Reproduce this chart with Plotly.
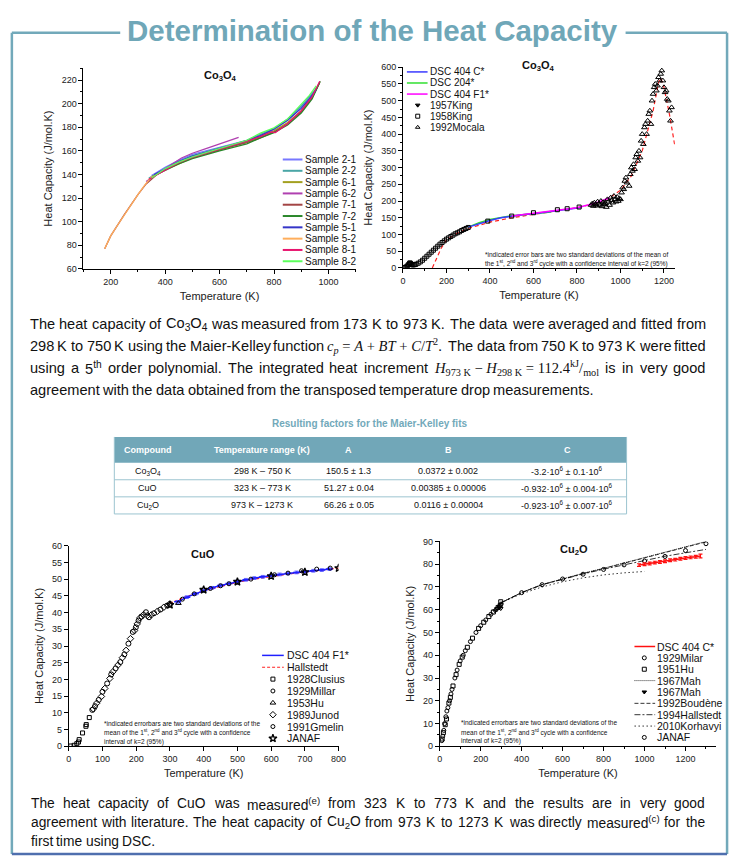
import re
import plotly.graph_objects as go

W, H = 739, 865

# ---------------- DATA ----------------
# Plot 1: Co3O4 samples (T in K, Cp in J/mol.K)
s21_T = [350, 400, 450, 500, 550, 600, 650, 700, 750, 800, 850, 900, 930, 960]
s21_C = [139, 146, 152, 157, 160, 163, 166, 169, 173, 178, 186, 197, 205, 214]
s22_T = [340, 400, 450, 500, 550, 600, 650, 700, 750, 800, 850, 900, 930, 955]
s22_C = [137, 145, 151, 156, 159.5, 162.5, 165.5, 169, 174, 179, 187, 198, 206, 213]
s61_T = [340, 400, 450, 500, 550, 600, 650, 700, 750, 800, 850, 900, 940, 968]
s61_C = [136, 144, 149, 154, 158, 161, 164, 167.5, 172, 177, 184, 194, 206, 218]
s62_T = [330, 380, 420, 460, 500, 550, 600, 640, 670]
s62_C = [134, 142, 148, 154, 158, 162, 166, 169, 171.5]
s71_T = [178, 200, 250, 300, 330, 370, 400, 450, 500, 550, 600, 650, 700, 750, 800, 850, 900, 940, 968]
s71_C = [77, 88, 106, 123, 132, 140, 144, 150, 154, 157.5, 160.5, 164, 167, 171, 176, 183, 193, 205, 218]
s72_T = [350, 400, 450, 500, 550, 600, 650, 700, 750, 800, 850, 900, 940, 970]
s72_C = [138, 143.5, 149, 153.5, 157, 160, 163, 166, 171, 175.5, 182, 192, 204, 219]
s51_T = [360, 400, 450, 500, 550, 600, 650, 700, 750, 800, 850, 900, 930, 955]
s51_C = [140, 145, 151, 155.5, 159, 162, 165, 168.5, 173, 178.5, 186, 196, 204, 212]
s52_T = [178, 190, 200, 225, 250, 275, 300, 325, 350, 365]
s52_C = [77, 83, 88, 97, 106, 115, 123, 131, 138, 139]
s81_T = [340, 400, 450, 500, 550, 600, 650, 700, 750, 790, 805, 850, 900, 940, 968]
s81_C = [136, 144, 150, 154.5, 158, 161.5, 164.5, 168, 172, 176, 175.5, 183, 194, 206, 219]
s82_T = [350, 400, 450, 500, 550, 600, 650, 700, 750, 800, 850, 900, 930, 955]
s82_C = [137, 145, 150.5, 155, 158.5, 162, 165.5, 169, 175, 179.5, 187, 199, 207, 215]
sample_names = ["Sample 2-1", "Sample 2-2", "Sample 6-1", "Sample 6-2", "Sample 7-1",
                "Sample 7-2", "Sample 5-1", "Sample 5-2", "Sample 8-1", "Sample 8-2"]
sample_colors = ["#7878ff", "#4aa6a6", "#a3a020", "#b040b0", "#a34545",
                 "#2a872a", "#3535c8", "#ffae5c", "#e8146e", "#5cff5c"]
sample_T = [s21_T, s22_T, s61_T, s62_T, s71_T, s72_T, s51_T, s52_T, s81_T, s82_T]
sample_C = [s21_C, s22_C, s61_C, s62_C, s71_C, s72_C, s51_C, s52_C, s81_C, s82_C]

# Plot 2: Co3O4 literature
king57_T = [5, 10, 15, 20, 25, 30, 33, 36, 40, 45, 50, 55, 60, 70, 80, 90, 100, 110, 120, 130, 140,
            150, 160, 170, 180, 190, 200, 210, 220, 230, 240, 250, 260, 270, 280, 290, 300]
king57_C = [0.5, 1.5, 3, 6, 10, 14, 15, 13, 10, 9, 9.5, 10, 11, 14, 18, 23, 29, 35, 41, 47, 53,
            59, 65, 71, 76, 81, 86, 90, 94, 98, 102, 105, 108, 112, 115, 118, 121]
king58_T = [390, 500, 600, 710, 755, 810]
king58_C = [140, 155, 165, 174, 177, 182]
mocala_T = [865, 870, 875, 880, 885, 890, 895, 900, 905, 910, 915, 920, 925, 930, 935, 940, 945, 950,
            955, 960, 965, 970, 975, 980, 985, 990, 995, 1000,
            1005, 1010, 1015, 1020, 1025, 1030,
            1040, 1045, 1050, 1055, 1060, 1065, 1070, 1075, 1080, 1085, 1090, 1095, 1100, 1105, 1110,
            1115, 1120, 1125, 1130, 1135, 1140, 1145, 1150, 1155, 1160, 1165, 1170, 1175, 1180, 1185,
            1190, 1195, 1200, 1205, 1210, 1215, 1220, 1225, 1230, 1235]
mocala_C = [188, 192, 185, 195, 190, 186, 198, 192, 188, 200, 184, 196, 190, 193, 182, 205, 198, 188,
            210, 202, 195, 215, 205, 198, 212, 200, 208, 205,
            225, 240, 235, 260, 270, 255,
            245, 280, 300, 290, 310, 295, 330, 340, 320, 350, 330, 380, 400, 370, 420,
            430, 400, 440, 460, 470, 430, 500, 520, 540, 550, 530, 545, 570, 560, 580,
            590, 560, 540, 525, 530, 505, 500, 470, 440, 480]
dsc404c_T = [300, 350, 400, 450, 500, 550, 600, 650, 700, 750, 800, 820]
dsc404c_C = [122, 133, 142, 150, 155, 159, 162, 166, 170, 174, 179, 181]
dsc204_T = [300, 350, 400, 450, 500, 550, 600, 650, 680]
dsc204_C = [122, 135, 145, 151, 156, 159, 162, 165, 167]
dsc404f1_T = [500, 550, 600, 650, 700, 750, 800, 850, 900, 950]
dsc404f1_C = [155, 159, 163, 166, 170, 175, 180, 188, 197, 210]
fit_T = [135, 150, 175, 200, 250, 300, 350, 400, 500, 600, 700, 800, 900, 950, 1000, 1050, 1100,
         1150, 1175, 1185, 1200, 1225, 1250]
fit_C = [0, 22, 58, 84, 104, 118, 128, 137, 150, 160, 170, 180, 195, 210, 232, 275, 350,
         470, 555, 568, 540, 460, 365]

# Plot 3: CuO
clusius_T = [6, 16, 24, 29, 31, 41, 51, 52, 61]
clusius_C = [0.1, 0.3, 0.8, 1.3, 2.0, 4.0, 6.0, 6.5, 8.6]
millar_T = [70, 78, 89, 100, 114, 126, 139, 153, 165, 177, 190, 199, 207, 216, 229, 238, 253, 272, 292, 300]
millar_C = [10.9, 12.0, 13.9, 16.3, 18.8, 21.5, 23.3, 25.2, 27.5, 30.7, 34.2, 35.6, 37.6, 38.8, 40.1,
            38.6, 39.8, 40.9, 42.1, 42.6]
junod_T = [73, 83, 97, 107, 122, 131, 146, 159, 170, 183, 195, 203, 211, 222, 233, 245, 263, 282]
junod_C = [11.2, 12.9, 14.9, 17.3, 20.3, 22.3, 24.3, 26.5, 28.7, 32.2, 34.6, 36.6, 38.4, 39.4, 39.1,
           39.3, 40.4, 41.6]
hu53_T = [325]
hu53_C = [42.8]
gmelin_T = [337, 372, 420, 450, 475, 540, 610, 650, 690, 735, 775]
gmelin_C = [44.0, 45.6, 47.2, 48.0, 48.6, 50.0, 51.3, 51.8, 52.5, 53.0, 53.3]
janaf3_T = [300, 400, 500, 600, 700, 800]
janaf3_C = [42.3, 46.8, 49.2, 50.9, 52.1, 53.3]
cuo_dsc_T = [323, 350, 375, 400, 425, 450, 475, 500, 525, 550, 575, 600, 625, 650, 675, 700, 725, 750, 773]
cuo_dsc_C = [43.2, 44.6, 45.6, 46.6, 47.4, 48.1, 48.7, 49.3, 49.8, 50.3, 50.7, 51.1, 51.4, 51.7, 52.0,
             52.2, 52.5, 52.7, 53.0]
cuo_dsc_err = [0.4, 0.4, 0.4, 0.4, 0.4, 0.4, 0.4, 0.4, 0.4, 0.4, 0.4, 0.4, 0.4, 0.4, 0.4, 0.4, 0.4, 0.4, 0.4]
hall_T = [300, 350, 400, 450, 500, 550, 600, 650, 700, 750, 800]
hall_C = [42.8, 44.8, 46.5, 47.9, 49.1, 50.0, 50.8, 51.5, 52.1, 52.7, 53.3]

# Plot 4: Cu2O
milar_T = [10, 15, 20, 24, 30, 35, 40, 48, 55, 60, 74, 85, 100, 115, 125, 150, 177, 200, 225, 250, 275, 292, 300]
milar_C = [2.5, 4.5, 7, 10, 13, 15.5, 17, 20, 23, 25, 30, 33.5, 37.5, 40, 42, 46, 50, 53, 55.5, 58, 60, 61.5, 62.5]
hu51_T = [12, 18, 27, 33, 45, 52, 65, 80, 95, 110, 135, 160, 190, 215, 240, 262, 285, 295, 298]
hu51_C = [3.2, 6, 9.5, 12, 19, 21.5, 26.5, 31.5, 36, 39.2, 43.5, 47.5, 51.8, 54.5, 57, 59, 61, 61.8, 63.5]
mahpt_T = [270, 280, 290, 298]
mahpt_C = [59.5, 60.5, 61, 60.5]
mahln_T = [298, 400, 500, 600, 700, 800, 900, 1000, 1100, 1200, 1300]
mahln_C = [63, 67.6, 71.1, 73.7, 76, 78.2, 80.5, 82.8, 85.1, 87.5, 90]
boud_T = [298, 400, 500, 600, 700, 800, 900, 1000, 1100, 1200, 1300]
boud_C = [63, 67.5, 71, 73.6, 75.9, 78.1, 80.4, 82.6, 84.9, 87.3, 89.8]
hall94_T = [298, 400, 500, 600, 700, 800, 900, 1000, 1100, 1200, 1300]
hall94_C = [63, 67.5, 71, 73.5, 75.7, 77.8, 79.8, 81.8, 83.5, 85, 86.5]
korh_T = [298, 400, 500, 600, 700, 800, 900, 1000]
korh_C = [63, 67, 70, 72.3, 74, 75.3, 76.2, 76.8]
janaf4_T = [400, 500, 600, 700, 800, 900, 1000, 1100, 1200, 1300]
janaf4_C = [67.5, 71, 73.5, 75.6, 77.7, 79.7, 81.4, 83.4, 86, 89]
cu2o_dsc_T = [973, 1000, 1025, 1050, 1075, 1100, 1125, 1150, 1175, 1200, 1225, 1250, 1273]
cu2o_dsc_C = [79.6, 80.0, 80.3, 80.7, 81.0, 81.3, 81.7, 82.0, 82.4, 82.7, 83.0, 83.3, 83.6]
cu2o_dsc_err = [0.6, 0.6, 0.6, 0.6, 0.6, 0.6, 0.6, 0.6, 0.6, 0.6, 0.6, 0.6, 0.8]

# Table
tbl_header = ["Compound", "Temperature range (K)", "A", "B", "C"]
tbl_rows = [
    ["Co<sub>3</sub>O<sub>4</sub>", "298 K – 750 K", "150.5 ± 1.3", "0.0372 ± 0.002",
     "-3.2·10<sup>6</sup> ± 0.1·10<sup>6</sup>"],
    ["CuO", "323 K – 773 K", "51.27 ± 0.04", "0.00385 ± 0.00006",
     "-0.932·10<sup>6</sup> ± 0.004·10<sup>6</sup>"],
    ["Cu<sub>2</sub>O", "973 K – 1273 K", "66.26 ± 0.05", "0.0116 ± 0.00004",
     "-0.923·10<sup>6</sup> ± 0.007·10<sup>6</sup>"],
]

# paragraph texts ({...} marks a math token; \u00a0 keeps a token together)
para1 = [
    "The heat capacity of Co<sub>3</sub>O<sub>4</sub> was measured from 173 K to 973 K. "
    "The data were averaged and fitted from",
    "298 K to 750 K using the Maier-Kelley function {<i>c<sub>p</sub></i>\u00a0=\u00a0<i>A</i>\u00a0+\u00a0"
    "<i>BT</i>\u00a0+\u00a0<i>C</i>/<i>T</i><sup>2</sup>.} The data from 750 K to 973 K were fitted",
    "using a 5<sup>th</sup> order polynomial. The integrated heat increment "
    "{<i>H</i><sub>973\u00a0K</sub>\u00a0−\u00a0<i>H</i><sub>298\u00a0K</sub>\u00a0=\u00a0"
    "112.4<sup>kJ</sup>/<sub>mol</sub>} is in very good",
    "agreement with the data obtained from the transposed temperature drop measurements.",
]
para2 = [
    "The heat capacity of CuO was measured<sup>(e)</sup> from 323 K to 773 K and the results "
    "are in very good",
    "agreement with literature. The heat capacity of Cu<sub>2</sub>O from 973 K to 1273 K was "
    "directly measured<sup>(c)</sup> for the",
    "first time using DSC.",
]

# ---------------- LAYOUT HELPERS ----------------
FONT = "Liberation Sans, Arial, sans-serif"
SERIF = "Liberation Serif"
TEAL = "#72a9ba"

AW = {' ': 278, '\u00a0': 278, '!': 278, '"': 355, '#': 556, '$': 556, '%': 889, '&': 667, "'": 191,
      '(': 333, ')': 333,
      '*': 389, '+': 584, ',': 278, '-': 333, '.': 278, '/': 278, ':': 278, ';': 278, '<': 584, '=': 584,
      '>': 584, '?': 556, 'A': 667, 'B': 667, 'C': 722, 'D': 722, 'E': 667, 'F': 611, 'G': 778, 'H': 722,
      'I': 278, 'J': 500, 'K': 667, 'L': 556, 'M': 833, 'N': 722, 'O': 778, 'P': 667, 'Q': 778, 'R': 722,
      'S': 667, 'T': 611, 'U': 722, 'V': 667, 'W': 944, 'X': 667, 'Y': 667, 'Z': 611, 'a': 556, 'b': 556,
      'c': 500, 'd': 556, 'e': 556, 'f': 278, 'g': 556, 'h': 556, 'i': 222, 'j': 222, 'k': 500, 'l': 222,
      'm': 833, 'n': 556, 'o': 556, 'p': 556, 'q': 556, 'r': 333, 's': 500, 't': 278, 'u': 556, 'v': 500,
      'w': 722, 'x': 500, 'y': 500, 'z': 500, '–': 556, '−': 584, '·': 278, '±': 584}


def text_w(html, size, factor=1.0):
    w = 0.0
    scale = 1.0
    for part in re.split(r"(<[^>]+>)", html):
        if part.startswith("<"):
            tag = part.strip("<>/").split()[0]
            if tag in ("sub", "sup"):
                scale = 1.0 if part.startswith("</") else 0.7
            continue
        for ch in part:
            w += AW.get(ch, 556) * scale
    return w * size / 1000.0 * factor


def dx(p):
    return p / W


def dy(p):
    return 1 - p / H


fig = go.Figure()


def sc(x, y, ax, **kw):
    fig.add_trace(go.Scatter(x=x, y=y, xaxis="x" + ax, yaxis="y" + ax, showlegend=False, **kw))


# Plot 1
for t, c, col in zip(sample_T, sample_C, sample_colors):
    sc(t, c, "", mode="lines", line=dict(color=col, width=1.3))

# Plot 2
sc(fit_T, fit_C, "2", mode="lines", line=dict(color="#ff2020", width=1.2, dash="4px,3px"))
sc(dsc204_T, dsc204_C, "2", mode="lines", line=dict(color="#30e030", width=1.5))
sc(dsc404c_T, dsc404c_C, "2", mode="lines", line=dict(color="#3a3aff", width=1.5))
sc(dsc404f1_T, dsc404f1_C, "2", mode="lines", line=dict(color="#ff00ff", width=1.5))
sc(king57_T, king57_C, "2", mode="markers",
   marker=dict(symbol="square-open", size=4, color="black", line=dict(width=1)))
sc(king58_T, king58_C, "2", mode="markers",
   marker=dict(symbol="square-open", size=4, color="black", line=dict(width=1)))
sc(mocala_T, mocala_C, "2", mode="markers",
   marker=dict(symbol="triangle-up-open", size=5, color="black", line=dict(width=1)))

# Plot 3
sc(hall_T, hall_C, "3", mode="lines", line=dict(color="#ff2020", width=1.2, dash="3px,2px"))
sc(cuo_dsc_T, cuo_dsc_C, "3", mode="lines+markers", line=dict(color="#2020ff", width=1.5),
   marker=dict(symbol="line-ew", size=5, color="#2020ff", line=dict(width=1.5, color="#2020ff")),
   error_y=dict(type="data", array=cuo_dsc_err, color="#6060ff", thickness=1, width=2))
sc(clusius_T, clusius_C, "3", mode="markers",
   marker=dict(symbol="square-open", size=4, color="black", line=dict(width=1)))
sc(millar_T, millar_C, "3", mode="markers",
   marker=dict(symbol="circle-open", size=5, color="black", line=dict(width=1)))
sc(junod_T, junod_C, "3", mode="markers",
   marker=dict(symbol="diamond-open", size=5, color="black", line=dict(width=1)))
sc(hu53_T, hu53_C, "3", mode="markers",
   marker=dict(symbol="triangle-up-open", size=5, color="black", line=dict(width=1)))
sc(gmelin_T, gmelin_C, "3", mode="markers",
   marker=dict(symbol="circle-open", size=4, color="black", line=dict(width=1)))
sc(janaf3_T, janaf3_C, "3", mode="markers",
   marker=dict(symbol="star-open", size=6, color="black", line=dict(width=1.3)))

# Plot 4
sc(mahln_T, mahln_C, "4", mode="lines", line=dict(color="black", width=0.8, dash="1px,1px"))
sc(boud_T, boud_C, "4", mode="lines", line=dict(color="black", width=0.8, dash="4px,2px"))
sc(hall94_T, hall94_C, "4", mode="lines", line=dict(color="black", width=0.8, dash="6px,2px,2px,2px"))
sc(korh_T, korh_C, "4", mode="lines", line=dict(color="black", width=0.8, dash="1.5px,2.5px"))
sc(milar_T, milar_C, "4", mode="markers",
   marker=dict(symbol="circle-open", size=4, color="black", line=dict(width=1)))
sc(hu51_T, hu51_C, "4", mode="markers",
   marker=dict(symbol="square-open", size=4, color="black", line=dict(width=1)))
sc(mahpt_T, mahpt_C, "4", mode="markers",
   marker=dict(symbol="triangle-down-open", size=4, color="black", line=dict(width=1)))
sc(janaf4_T, janaf4_C, "4", mode="markers",
   marker=dict(symbol="circle-open", size=4, color="black", line=dict(width=1)))
sc(cu2o_dsc_T, cu2o_dsc_C, "4", mode="lines", line=dict(color="#ff1010", width=1.5),
   error_y=dict(type="data", array=cu2o_dsc_err, color="#ff1010", thickness=1.2, width=2))


# ---------------- AXES ----------------
def axis(domain, rng, dtick, minor=None, title="", standoff=6):
    d = dict(domain=domain, range=rng, dtick=dtick, tick0=0, showline=True, linecolor="black",
             linewidth=1, ticks="outside", ticklen=4, tickwidth=1, tickcolor="black",
             showgrid=False, zeroline=False, fixedrange=True,
             tickfont=dict(family=FONT, size=9, color="#222"),
             title=dict(text=title, font=dict(family=FONT, size=11, color="#222"), standoff=standoff))
    if minor:
        d["minor"] = dict(dtick=minor, ticks="outside", ticklen=2, tickcolor="black", showgrid=False)
    return d


XT = "Temperature (K)"
YT = "Heat Capacity (J/mol.K)"
fig.update_layout(
    xaxis=dict(axis([dx(81.7), dx(358)], [100, 1100], 200, 100, XT), anchor="y"),
    yaxis=dict(axis([dy(267), dy(64)], [60, 230], 20, 10, YT), anchor="x"),
    xaxis2=dict(axis([dx(406), dx(682)], [0, 1250], 200, 100, XT), anchor="y2"),
    yaxis2=dict(axis([dy(266), dy(63)], [0, 600], 50, 25, YT), anchor="x2"),
    xaxis3=dict(axis([dx(66.7), dx(340.7)], [0, 800], 100, None, XT), anchor="y3"),
    yaxis3=dict(axis([dy(750), dy(547)], [0, 60], 5, None, YT), anchor="x3"),
    xaxis4=dict(axis([dx(443.3), dx(724)], [0, 1350], 200, 100, XT), anchor="y4"),
    yaxis4=dict(axis([dy(750), dy(542.7)], [0, 90], 10, 5, YT), anchor="x4"),
    xaxis5=dict(domain=[0, 1], range=[0, W], visible=False, fixedrange=True, anchor="y5"),
    yaxis5=dict(domain=[0, 1], range=[H, 0], visible=False, fixedrange=True, anchor="x5"),
)

# ---------------- LEGENDS (drawn in pixel space) ----------------
ann = []
shapes = []


def leg_line(x0, x1, y, line):
    fig.add_trace(go.Scatter(x=[x0, x1], y=[y, y], xaxis="x5", yaxis="y5", mode="lines",
                             line=line, showlegend=False, hoverinfo="skip"))


def leg_mark(x, y, marker):
    fig.add_trace(go.Scatter(x=[x], y=[y], xaxis="x5", yaxis="y5", mode="markers",
                             marker=marker, showlegend=False, hoverinfo="skip"))


def txt(x, y, text, size, family=FONT, color="#111", xanchor="left", bold=False):
    if bold:
        text = "<b>" + text + "</b>"
    ann.append(dict(x=x, y=y, xref="x5", yref="y5", text=text, showarrow=False, xanchor=xanchor,
                    yanchor="middle", borderpad=0, font=dict(family=family, size=size, color=color)))


for i, (n, col) in enumerate(zip(sample_names, sample_colors)):
    yy = 156.3 + i * 11.44
    leg_line(284, 304, yy, dict(color=col, width=2))
    txt(306, yy, n, 10)


def mk(sym, size=5, w=1):
    return dict(symbol=sym, size=size, color="black", line=dict(width=w, color="black"))


leg2 = [("DSC 404 C*", "line", dict(color="#3a3aff", width=1.5)),
        ("DSC 204*", "line", dict(color="#30e030", width=1.5)),
        ("DSC 404 F1*", "line", dict(color="#ff00ff", width=1.5)),
        ("1957King", "mark", mk("triangle-down", 4)),
        ("1958King", "mark", mk("square-open", 4)),
        ("1992Mocala", "mark", mk("triangle-up-open", 4))]
for i, (n, k, st) in enumerate(leg2):
    yy = 67.7 + i * 11.2
    if k == "line":
        leg_line(410, 431, yy, st)
    else:
        leg_mark(421, yy, st)
    txt(432, yy, n, 10)

leg3 = [("DSC 404 F1*", "line", dict(color="#2020ff", width=1.5)),
        ("Hallstedt", "line", dict(color="#ff2020", width=1.2, dash="3px,2px")),
        ("1928Clusius", "mark", mk("square-open", 4)),
        ("1929Millar", "mark", mk("circle-open", 4)),
        ("1953Hu", "mark", mk("triangle-up-open", 5)),
        ("1989Junod", "mark", mk("diamond-open", 5)),
        ("1991Gmelin", "mark", mk("circle-open", 4)),
        ("JANAF", "mark", mk("star-open", 6, 1.3))]
for i, (n, k, st) in enumerate(leg3):
    yy = 658 + i * 12
    if k == "line":
        leg_line(263, 285, yy, st)
    else:
        leg_mark(274, yy, st)
    txt(287, yy, n, 10.5)

leg4 = [("DSC 404 C*", "line", dict(color="#ff1010", width=1.5)),
        ("1929Milar", "mark", mk("circle-open", 4)),
        ("1951Hu", "mark", mk("square-open", 4)),
        ("1967Mah", "line", dict(color="black", width=0.8, dash="1px,1px")),
        ("1967Mah", "mark", mk("triangle-down", 4)),
        ("1992Boudène", "line", dict(color="black", width=0.8, dash="4px,2px")),
        ("1994Hallstedt", "line", dict(color="black", width=0.8, dash="6px,2px,2px,2px")),
        ("2010Korhavyi", "line", dict(color="black", width=0.8, dash="1.5px,2.5px")),
        ("JANAF", "mark", mk("circle-open", 4))]
for i, (n, k, st) in enumerate(leg4):
    yy = 649 + i * 11.5
    if k == "line":
        leg_line(641, 662, yy, st)
    else:
        leg_mark(651, yy, st)
    txt(663, yy, n, 10.5)

# ---------------- TEXT ----------------
txt(221, 72, "Co<sub>3</sub>O<sub>4</sub>", 11, xanchor="center", bold=True)
txt(544, 62, "Co<sub>3</sub>O<sub>4</sub>", 11, xanchor="center", bold=True)
txt(203, 555, "CuO", 11, xanchor="center", bold=True)
txt(580, 551, "Cu<sub>2</sub>O", 11, xanchor="center", bold=True)

txt(582, 252, "*indicated error bars are two standard deviations of the mean of", 6.5, xanchor="center")
txt(582, 262, "the 1<sup>st</sup>, 2<sup>nd</sup> and 3<sup>rd</sup> cycle with a confidence interval of k=2 (95%)",
    6.5, xanchor="center")
for (x0, y0) in [(101.5, 727), (464, 726)]:
    txt(x0, y0, "*indicated errorbars are two standard deviations of the", 6.5)
    txt(x0, y0 + 9.5, "mean of the 1<sup>st</sup>, 2<sup>nd</sup> and 3<sup>rd</sup> cycle with a confidence", 6.5)
    txt(x0, y0 + 19, "interval of k=2 (95%)", 6.5)

# main title
txt(W / 2 + 6, 26, "Determination of the Heat Capacity", 29.5, color="#6fa7b8", xanchor="center", bold=True)


def paragraph(lines, y0, lh, left, right, size, njust):
    for li, line in enumerate(lines):
        toks = line.split(" ")
        words, widths = [], []
        for t in toks:
            if t.startswith("{") and t.endswith("}"):
                inner = t[1:-1]
                words.append("<span style='font-family:" + SERIF + "'>" + inner + "</span>")
                widths.append(text_w(inner, size, 0.955))
            else:
                words.append(t)
                widths.append(text_w(t, size))
        y = y0 + li * lh
        if li < njust and len(words) > 1:
            gap = (right - left - sum(widths)) / (len(words) - 1)
        else:
            gap = size * 0.278
        x = left
        for w_, wd in zip(words, widths):
            txt(x, y, w_, size)
            x += wd + gap


paragraph(para1, 323, 22, 26, 712, 14.6, 3)
paragraph(para2, 808, 19, 27, 711, 13.8, 2)

# table
txt(372, 423, "Resulting factors for the Maier-Kelley fits", 10, color=TEAL, xanchor="center", bold=True)
T_L, T_R = 113, 633
T_TOP, H_BOT = 437, 463
row_h = 17.3
col_c = [147, 263, 351, 452, 573]
shapes.append(dict(type="rect", xref="x5", yref="y5", x0=T_L, x1=T_R, y0=T_TOP, y1=H_BOT,
                   fillcolor="#71a7b8", line=dict(width=0), layer="below"))
for j, h in enumerate(tbl_header):
    txt(col_c[j], (T_TOP + H_BOT) / 2, h, 9, color="white", xanchor="center", bold=True)
for i, row in enumerate(tbl_rows):
    yc = H_BOT + row_h * (i + 0.5)
    for j, v in enumerate(row):
        txt(col_c[j], yc, v, 9, color="#111", xanchor="center")
    shapes.append(dict(type="line", xref="x5", yref="y5", x0=T_L, x1=T_R,
                       y0=H_BOT + row_h * (i + 1), y1=H_BOT + row_h * (i + 1),
                       line=dict(color="#9cc4d0", width=1)))
for xe in (T_L, T_R):
    shapes.append(dict(type="line", xref="x5", yref="y5", x0=xe, x1=xe, y0=T_TOP, y1=H_BOT + 3 * row_h,
                       line=dict(color="#9cc4d0", width=1)))

# frame
FR = dict(color=TEAL, width=2.5)
shapes += [
    dict(type="line", xref="x5", yref="y5", x0=9, x1=119, y0=28, y1=28, line=FR),
    dict(type="line", xref="x5", yref="y5", x0=632, x1=735, y0=28, y1=28, line=FR),
    dict(type="line", xref="x5", yref="y5", x0=9, x1=9, y0=28, y1=859, line=FR),
    dict(type="line", xref="x5", yref="y5", x0=735, x1=735, y0=28, y1=859, line=FR),
    dict(type="line", xref="x5", yref="y5", x0=9, x1=735, y0=859, y1=859,
         line=dict(color="#4f6fae", width=2.5)),
]

fig.update_layout(
    width=W, height=H, margin=dict(l=0, r=0, t=0, b=0),
    paper_bgcolor="white", plot_bgcolor="rgba(0,0,0,0)",
    showlegend=False, annotations=ann, shapes=shapes,
    font=dict(family=FONT, color="#111"),
)

fig.write_html("out.html")
